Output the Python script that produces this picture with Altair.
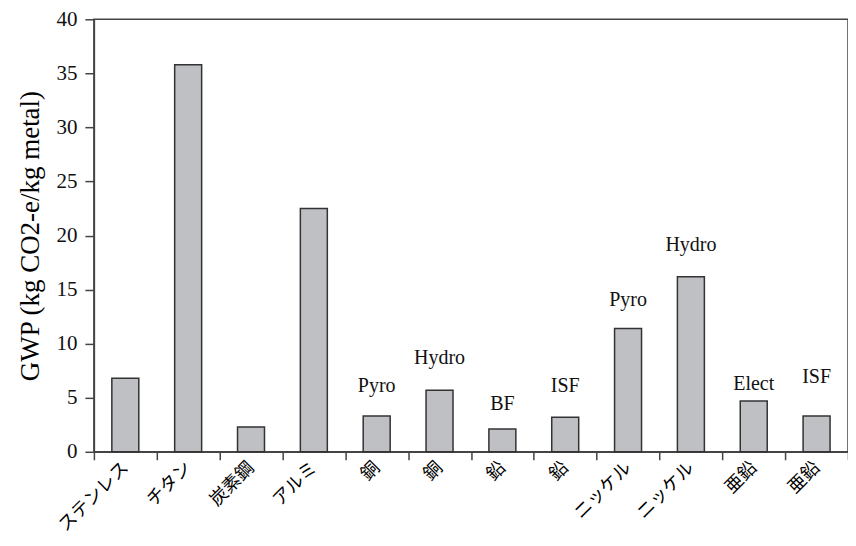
import altair as alt
import pandas as pd

categories = ["ステンレス", "チタン", "炭素鋼", "アルミ", "銅", "銅", "鉛", "鉛",
              "ニッケル", "ニッケル", "亜鉛", "亜鉛"]
gwp = [6.8, 35.8, 2.3, 22.5, 3.3, 5.7, 2.1, 3.2, 11.4, 16.2, 4.7, 3.3]
process = ["", "", "", "", "Pyro", "Hydro", "BF", "ISF", "Pyro", "Hydro", "Elect", "ISF"]
label_y = [0, 0, 0, 0, 6.1, 8.7, 4.4, 6.1, 14.0, 19.1, 6.3, 6.9]
y_ticks = [0, 5, 10, 15, 20, 25, 30, 35, 40]

df = pd.DataFrame({
    "idx": list(range(len(categories))),
    "name": categories,
    "gwp": gwp,
    "proc": process,
    "ly": label_y,
})

label_expr = "[" + ",".join("'" + c + "'" for c in categories) + "][datum.value]"

x_enc = alt.X(
    "idx:O",
    scale=alt.Scale(paddingInner=0, paddingOuter=0),
    axis=alt.Axis(
        title=None,
        labelExpr=label_expr,
        labelAngle=-45,
        labelAlign="right",
        labelBaseline="middle",
        labelPadding=5,
        labelFont="Noto Sans CJK JP",
        labelFontSize=18,
        labelColor="#000000",
        tickBand="extent",
        tickSize=8,
        tickColor="#444444",
        tickWidth=1.5,
        domainColor="#444444",
        domainWidth=1.5,
    ),
)

bars = alt.Chart(df).mark_bar(
    size=27, fill="#bfc0c4", stroke="#333333", strokeWidth=1.5
).encode(
    x=x_enc,
    y=alt.Y(
        "gwp:Q",
        scale=alt.Scale(domain=[0, 40], nice=False),
        axis=alt.Axis(
            title="GWP (kg CO2-e/kg metal)",
            values=y_ticks,
            grid=False,
            titleFont="Liberation Serif",
            titleFontSize=27,
            titleFontWeight="normal",
            titleColor="#000000",
            titlePadding=11,
            labelFont="Liberation Serif",
            labelFontSize=21,
            labelColor="#111111",
            labelPadding=8,
            tickSize=9,
            tickColor="#444444",
            tickWidth=1.5,
            domainColor="#444444",
            domainWidth=1.5,
        ),
    ),
)

labels = alt.Chart(df).transform_filter("datum.proc != ''").mark_text(
    font="Liberation Serif", fontSize=20, color="#111111", baseline="middle"
).encode(
    x=alt.X("idx:O"),
    y=alt.Y("ly:Q"),
    text="proc:N",
)

chart = alt.layer(bars, labels).properties(
    width=755,
    height=433,
    autosize=alt.AutoSizeParams(type="none"),
    padding={"left": 86, "top": 11, "right": 0, "bottom": 86},
).configure(background="#ffffff").configure_view(
    stroke="#444444", strokeWidth=1.5
)

chart.save("out.html", embed_options={"renderer": "svg", "actions": False})
